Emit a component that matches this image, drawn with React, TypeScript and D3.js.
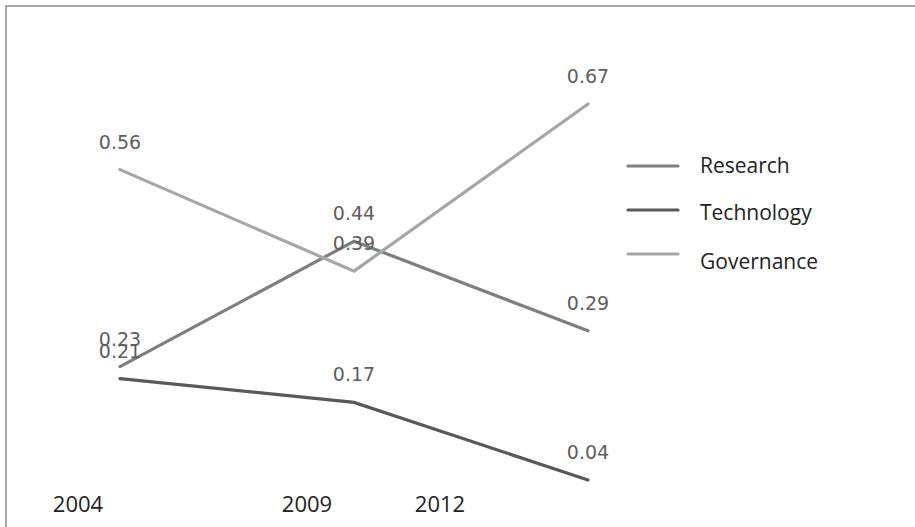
import React from "react";
import * as d3 from "d3";

const years = ["2004", "2009", "2012"];
const research = [0.23, 0.44, 0.29];
const technology = [0.21, 0.17, 0.04];
const governance = [0.56, 0.39, 0.67];
const seriesNames = ["Research", "Technology", "Governance"];
const seriesColors = ["#7f7f7f", "#595959", "#a6a6a6"];

const W = 915;
const H = 527;

// Where the year captions sit along the bottom edge
const yearLabelX = [78, 307, 440];

export default function App() {
  const x = d3.scalePoint<string>().domain(years).range([120, 588]);
  const y = d3.scaleLinear().domain([0.04, 0.67]).range([480, 104]);
  const line = d3
    .line<number>()
    .x((_, i) => x(years[i]) as number)
    .y((v) => y(v));

  const series = [research, technology, governance];
  const legendLineY = [166, 210, 254];
  const legendTextY = [173, 220, 269];

  return (
    <svg
      width={W}
      height={H}
      style={{ position: "absolute", left: 0, top: 0, background: "#fff" }}
    >
      <rect x={6} y={6} width={W + 20} height={H + 20} fill="#fff" stroke="#a9a9a9" strokeWidth={2} />
      {series.map((s, k) => (
        <path
          key={seriesNames[k]}
          d={line(s) ?? ""}
          fill="none"
          stroke={seriesColors[k]}
          strokeWidth={3.2}
          strokeLinejoin="miter"
          strokeLinecap="round"
        />
      ))}
      {series.map((s, k) =>
        s.map((v, i) => (
          <text
            key={`${k}-${i}`}
            x={x(years[i]) as number}
            y={y(v) - 21}
            textAnchor="middle"
            fontFamily="DejaVu Sans"
            fontSize={19}
            fill="#5e5e5e"
          >
            {v.toFixed(2)}
          </text>
        ))
      )}
      {years.map((yr, i) => (
        <text
          key={yr}
          x={yearLabelX[i]}
          y={512}
          textAnchor="middle"
          fontFamily="Open Sans"
          fontSize={22}
          fill="#222"
        >
          {yr}
        </text>
      ))}
      {seriesNames.map((n, k) => (
        <g key={n}>
          <line
            x1={628}
            x2={678}
            y1={legendLineY[k]}
            y2={legendLineY[k]}
            stroke={seriesColors[k]}
            strokeWidth={3.2}
            strokeLinecap="round"
          />
          <text x={700} y={legendTextY[k]} fontFamily="Open Sans" fontSize={21} fill="#222">
            {n}
          </text>
        </g>
      ))}
    </svg>
  );
}
